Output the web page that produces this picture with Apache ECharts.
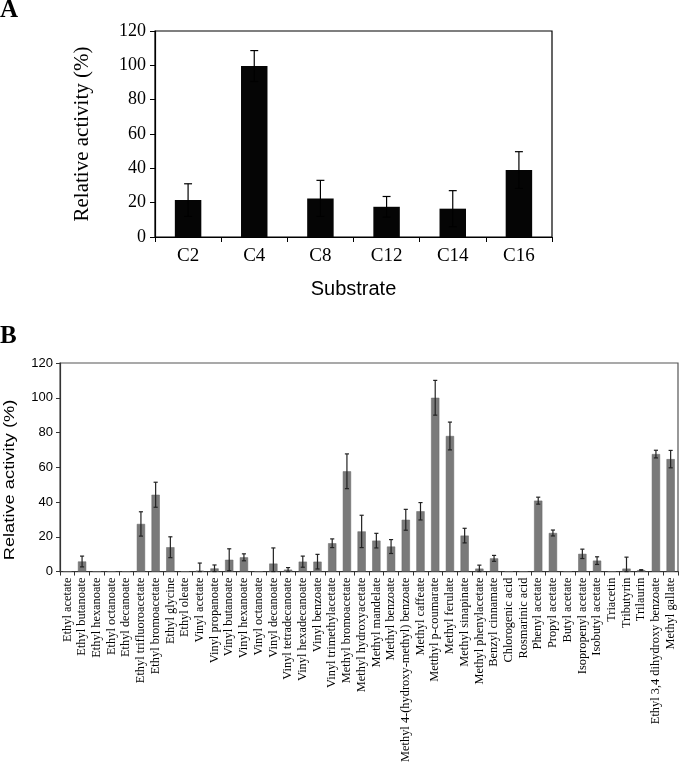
<!DOCTYPE html>
<html>
<head>
<meta charset="utf-8">
<script src="https://cdn.jsdelivr.net/npm/echarts@6/dist/echarts.min.js"></script>
<style>html,body{margin:0;padding:0;background:#fff}#c{width:680px;height:765px}</style>
</head>
<body>
<div id="c"></div>
<script>
// Panel A data
const catsA = ['C2', 'C4', 'C8', 'C12', 'C14', 'C16'];
const valsA = [21.5, 99.6, 22.5, 17.6, 16.5, 39];
const errA = [9.5, 9, 10.5, 6, 10.5, 10.7];
const ticksA = [0, 20, 40, 60, 80, 100, 120];

// Panel B data
const catsB = ['Ethyl acetate', 'Ethyl butanoate', 'Ethyl hexanoate', 'Ethyl octanoate', 'Ethyl decanoate',
  'Ethyl trifluoroacetate', 'Ethyl bromoacetate', 'Ethyl glycine', 'Ethyl oleate', 'Vinyl acetate',
  'Vinyl propanoate', 'Vinyl butanoate', 'Vinyl hexanoate', 'Vinyl octanoate', 'Vinyl decanoate',
  'Vinyl tetradecanoate', 'Vinyl hexadecanoate', 'Vinyl benzoate', 'Vinyl trimethylacetate',
  'Methyl bromoacetate', 'Methyl hydroxyacetate', 'Methyl mandelate', 'Methyl benzoate',
  'Methyl 4-(hydroxy-methyl) benzoate', 'Methyl caffeate', 'Metthyl p-coumarate', 'Methyl ferulate',
  'Methyl sinapinate', 'Methyl phenylacetate', 'Benzyl cinnamate', 'Chlorogenic acid', 'Rosmarinic acid',
  'Phenyl acetate', 'Propyl acetate', 'Butyl acetate', 'Isopropenyl acetate', 'Isobutyl acetate',
  'Triacetin', 'Tributyrin', 'Trilaurin', 'Ethyl 3,4 dihydroxy benzoate', 'Methyl gallate'];
const valsB = [0, 5.8, 0, 0, 0, 27.4, 44.2, 14, 0, 0.5,
  1.8, 6.8, 8.2, 0, 4.6, 1.1, 5.7, 5.7, 16.3,
  57.7, 23.1, 17.8, 14.4, 29.8, 34.7, 100, 78,
  20.7, 1.7, 7.6, 0, 0, 40.8, 22.2, 0, 10.2, 6.3,
  0, 1.7, 0.8, 67.6, 64.7];
const errB = [0, 3.1, 0, 0, 0, 7, 7.2, 6, 0, 4.4,
  2, 6.3, 2, 0, 9, 1.2, 3.2, 4.2, 2.5,
  10, 9.3, 4.2, 4, 6, 5, 10, 8,
  4.2, 2, 1.7, 0, 0, 2, 1.7, 0, 2.7, 2.2,
  0, 6.6, 0.3, 2.2, 5];
const ticksB = [0, 20, 40, 60, 80, 100, 120];

const serif = '"Liberation Serif", "Times New Roman", serif';
const sans = '"Liberation Sans", Arial, sans-serif';

function errRender(color, capFrac) {
  return function (params, api) {
    const i = api.value(0), v = api.value(1), e = api.value(2);
    if (!e) return null;
    const top = api.coord([i, v + e]);
    const bot = api.coord([i, Math.max(0, v - e)]);
    const w = api.size([1, 0])[0] * capFrac;
    const st = { stroke: color, lineWidth: 1.2 };
    return {
      type: 'group',
      children: [
        { type: 'line', shape: { x1: top[0], y1: top[1], x2: bot[0], y2: bot[1] }, style: st },
        { type: 'line', shape: { x1: top[0] - w, y1: top[1], x2: top[0] + w, y2: top[1] }, style: st },
        { type: 'line', shape: { x1: bot[0] - w, y1: bot[1], x2: bot[0] + w, y2: bot[1] }, style: st }
      ]
    };
  };
}

const chart = echarts.init(document.getElementById('c'), null, { renderer: 'canvas' });
chart.setOption({
  animation: false,
  backgroundColor: '#fff',
  title: [
    { text: 'A', left: 0, top: -2, padding: 0, textStyle: { fontFamily: serif, fontWeight: 'bold', fontSize: 25, color: '#000' } },
    { text: 'B', left: 0, top: 324, padding: 0, textStyle: { fontFamily: serif, fontWeight: 'bold', fontSize: 25, color: '#000' } }
  ],
  graphic: [
    {
      type: 'text', x: 10, y: 480, rotation: Math.PI / 2, scaleX: 1.22, scaleY: 1,
      style: { text: 'Relative activity (%)', font: '15px ' + sans, fill: '#000', align: 'center', verticalAlign: 'middle' }
    }
  ],
  grid: [
    { left: 155, top: 31, width: 397, height: 206, show: true, borderColor: '#000', borderWidth: 1.2, backgroundColor: 'transparent' },
    { left: 60, top: 363, width: 618, height: 211, show: true, borderColor: '#555', borderWidth: 1.2, backgroundColor: 'transparent' }
  ],
  xAxis: [
    {
      gridIndex: 0, type: 'category', data: catsA,
      name: 'Substrate', nameLocation: 'middle', nameGap: 42,
      nameTextStyle: { fontFamily: sans, fontSize: 20, color: '#000' },
      axisLine: { lineStyle: { color: '#000', width: 1.2 } },
      axisTick: { show: true, length: 5, lineStyle: { color: '#000' } },
      axisLabel: { fontFamily: serif, fontSize: 19, color: '#000', margin: 10 }
    },
    {
      gridIndex: 1, type: 'category', data: catsB,
      axisLine: { lineStyle: { color: '#333', width: 1.2 } },
      axisTick: { show: true, length: 4, lineStyle: { color: '#333' } },
      axisLabel: { interval: 0, rotate: 90, fontFamily: serif, fontSize: 12.4, color: '#000', margin: 6 }
    }
  ],
  yAxis: [
    {
      gridIndex: 0, type: 'value', min: ticksA[0], max: ticksA[ticksA.length - 1], interval: 20,
      name: 'Relative activity (%)', nameLocation: 'middle', nameGap: 62,
      nameTextStyle: { fontFamily: serif, fontSize: 21, color: '#000' },
      axisLine: { show: true, lineStyle: { color: '#000', width: 1.2 } },
      axisTick: { show: true, length: 5, lineStyle: { color: '#000' } },
      splitLine: { show: false },
      axisLabel: { fontFamily: serif, fontSize: 18, color: '#000', margin: 9 }
    },
    {
      gridIndex: 1, type: 'value', min: ticksB[0], max: ticksB[ticksB.length - 1], interval: 20,
      axisLine: { show: true, lineStyle: { color: '#333', width: 1.2 } },
      axisTick: { show: true, length: 4, lineStyle: { color: '#333' } },
      splitLine: { show: false },
      axisLabel: { fontFamily: sans, fontSize: 13, color: '#000', margin: 7 }
    }
  ],
  series: [
    {
      type: 'bar', xAxisIndex: 0, yAxisIndex: 0, data: valsA, barWidth: '40%',
      itemStyle: { color: '#050505' }
    },
    {
      type: 'custom', xAxisIndex: 0, yAxisIndex: 0, z: 5,
      renderItem: errRender('#000', 0.06),
      data: catsA.map((c, i) => [i, valsA[i], errA[i]])
    },
    {
      type: 'bar', xAxisIndex: 1, yAxisIndex: 1, data: valsB, barWidth: '56%',
      itemStyle: { color: '#7a7a7a', borderColor: '#666', borderWidth: 0.5 }
    },
    {
      type: 'custom', xAxisIndex: 1, yAxisIndex: 1, z: 5,
      renderItem: errRender('#222', 0.14),
      data: catsB.map((c, i) => [i, valsB[i], errB[i]])
    }
  ]
});
</script>
</body>
</html>
